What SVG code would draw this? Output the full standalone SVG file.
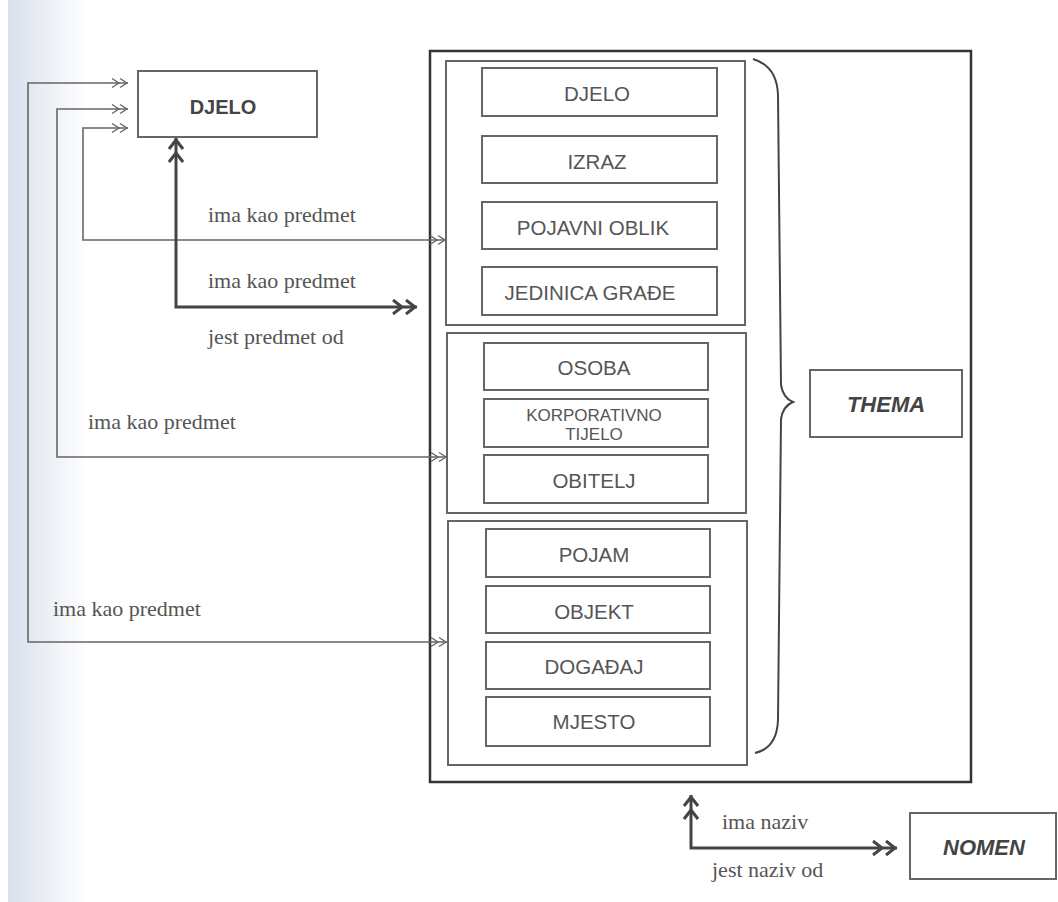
<svg xmlns="http://www.w3.org/2000/svg" width="1058" height="902" viewBox="0 0 1058 902">
<defs>
<linearGradient id="bg" x1="0" y1="0" x2="1" y2="0">
<stop offset="0" stop-color="#d9e0ec"/>
<stop offset="1" stop-color="#ffffff"/>
</linearGradient>
<marker id="dbl" markerUnits="userSpaceOnUse" markerWidth="20" markerHeight="12" refX="18" refY="6" orient="auto-start-reverse" viewBox="0 0 20 12">
<path d="M2,1.5 L9,6 L2,10.5 M10,1.5 L17,6 L10,10.5" fill="none" stroke="#666" stroke-width="1.4"/>
</marker>
<marker id="thick" markerUnits="userSpaceOnUse" markerWidth="30" markerHeight="16" refX="27" refY="8" orient="auto-start-reverse" viewBox="0 0 30 16">
<path d="M3,1 L12,8 L3,15 M16,1 L25,8 L16,15" fill="none" stroke="#444" stroke-width="3"/>
</marker>
<style>
.box{fill:#fff;stroke:#666;stroke-width:2}
.grp{fill:none;stroke:#666;stroke-width:2}
.outer{fill:none;stroke:#333;stroke-width:2.5}
.it{font-family:"Liberation Sans",Arial,sans-serif;font-size:20.5px;fill:#555;text-anchor:middle}
.bi{font-family:"Liberation Sans",Arial,sans-serif;font-size:22px;font-weight:bold;font-style:italic;fill:#444;text-anchor:middle}
.lbl{font-family:"Liberation Serif","Times New Roman",serif;font-size:22px;fill:#555}
.thin{fill:none;stroke:#666;stroke-width:1.6;marker-start:url(#dbl);marker-end:url(#dbl)}
.thk{fill:none;stroke:#444;stroke-width:3;marker-start:url(#thick);marker-end:url(#thick)}
</style>
</defs>
<rect x="0" y="0" width="1058" height="902" fill="#fff"/>
<rect x="8" y="0" width="80" height="902" fill="url(#bg)"/>

<g id="thema-container">
<rect class="outer" x="430" y="51" width="541" height="731"/>
<path d="M753,59 Q777,66 778,95 L781,385 Q783,398 793,402 Q783,406 781,419 L778,720 Q777,748 755,753" fill="none" stroke="#444" stroke-width="2"/>
</g>

<g id="group-1">
<rect class="grp" x="446" y="61" width="299" height="264"/>
<g id="n-djelo-inner"><rect class="box" x="482" y="68" width="235" height="48"/><text class="it" x="597" y="101">DJELO</text></g>
<g id="n-izraz"><rect class="box" x="482" y="136" width="235" height="47"/><text class="it" x="597" y="169">IZRAZ</text></g>
<g id="n-pojavni"><rect class="box" x="482" y="202" width="235" height="47"/><text class="it" x="593" y="235">POJAVNI OBLIK</text></g>
<g id="n-jedinica"><rect class="box" x="482" y="267" width="235" height="48"/><text class="it" x="590" y="300">JEDINICA GRAĐE</text></g>
</g>

<g id="group-2">
<rect class="grp" x="447" y="333" width="299" height="180"/>
<g id="n-osoba"><rect class="box" x="484" y="343" width="224" height="47"/><text class="it" x="594" y="375">OSOBA</text></g>
<g id="n-korporativno"><rect class="box" x="484" y="399" width="224" height="48"/><text class="it" style="font-size:17px" x="594" y="421">KORPORATIVNO</text><text class="it" style="font-size:17px" x="594" y="440">TIJELO</text></g>
<g id="n-obitelj"><rect class="box" x="484" y="455" width="224" height="48"/><text class="it" x="594" y="488">OBITELJ</text></g>
</g>

<g id="group-3">
<rect class="grp" x="448" y="521" width="299" height="244"/>
<g id="n-pojam"><rect class="box" x="486" y="529" width="224" height="48"/><text class="it" x="594" y="562">POJAM</text></g>
<g id="n-objekt"><rect class="box" x="486" y="586" width="224" height="47"/><text class="it" x="594" y="619">OBJEKT</text></g>
<g id="n-dogadaj"><rect class="box" x="486" y="642" width="224" height="47"/><text class="it" x="594" y="674">DOGAĐAJ</text></g>
<g id="n-mjesto"><rect class="box" x="486" y="697" width="224" height="49"/><text class="it" x="594" y="729">MJESTO</text></g>
</g>

<g id="n-djelo">
<rect class="box" x="138" y="71" width="179" height="66"/>
<text class="bi" style="font-style:normal;font-size:20px" x="223" y="114">DJELO</text>
</g>

<g id="n-thema">
<rect class="box" x="810" y="370" width="152" height="67"/>
<text class="bi" x="886" y="412">THEMA</text>
</g>

<g id="n-nomen">
<rect class="box" x="910" y="813" width="146" height="66"/>
<text class="bi" x="984" y="855">NOMEN</text>
</g>

<g id="connectors">
<path class="thin" d="M447,642 L28,642 L28,83 L128,83" />
<path class="thin" d="M447,457 L57,457 L57,109 L128,109" />
<path class="thin" d="M446,240 L83,240 L83,128 L128,128" />
<path class="thk" d="M176,138 L176,307 L417,307" />
<path class="thk" d="M691,795 L691,848 L897,848" />
</g>

<g id="labels">
<text class="lbl" x="208" y="222">ima kao predmet</text>
<text class="lbl" x="208" y="288">ima kao predmet</text>
<text class="lbl" x="208" y="344">jest predmet od</text>
<text class="lbl" x="88" y="429">ima kao predmet</text>
<text class="lbl" x="53" y="616">ima kao predmet</text>
<text class="lbl" x="722" y="829">ima naziv</text>
<text class="lbl" x="712" y="877">jest naziv od</text>
</g>
</svg>
